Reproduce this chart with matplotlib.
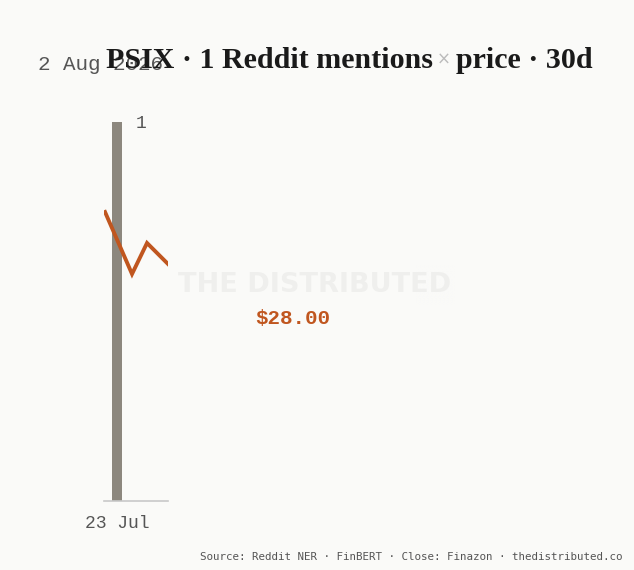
import numpy as np
import matplotlib.pyplot as plt

# data
mention_days = [0]
mention_counts = [1]
price_days = [-0.8, 1.0, 2.0, 3.4]
price_close = [28.52, 27.90, 28.21, 28.00]
tick_days = [0]
tick_labels = ['23 Jul']

bg = '#fafaf8'
bar_col = '#8c877e'
line_col = '#c0561f'

fig = plt.figure(figsize=(6.34, 5.70), dpi=100, facecolor=bg)
ax = fig.add_axes([0.164, 0.121, 0.101, 0.665])
ax.set_facecolor('none')

ax.bar(mention_days, mention_counts, width=0.65, color=bar_col, zorder=2)
ax.set_xlim(-0.87, 3.4)
ax.set_ylim(0, 1)
for s in ['top', 'right', 'left']:
    ax.spines[s].set_visible(False)
ax.spines['bottom'].set_color('#c8c8c8')
ax.spines['bottom'].set_linewidth(1.2)
ax.set_yticks([])
ax.set_xticks(tick_days)
ax.set_xticklabels(tick_labels, family='Liberation Mono', fontsize=13, color='#555555')
ax.tick_params(axis='x', length=0, pad=10)

ax2 = ax.twinx()
ax2.plot(price_days, price_close, color=line_col, lw=2.8, solid_joinstyle='miter', zorder=3)
ax2.set_ylim(25.63, 29.42)
ax2.axis('off')

# labels
fig.text(136 / 634, 1 - 123 / 570, '1', family='Liberation Mono', fontsize=13,
         color='#555555', va='center', ha='left')
fig.text(255 / 634, 1 - 318 / 570, '$28.00', family='Liberation Mono', fontsize=15,
         fontweight='bold', color=line_col, va='center', ha='left')
fig.text(178 / 634, 1 - 285 / 570, 'THE DISTRIBUTED', family='DejaVu Sans', fontsize=19.5,
         fontweight='bold', color='#efefed', va='center', ha='left', zorder=0)
# fade the right end of the watermark
fade = fig.add_axes([415 / 634, 1 - 305 / 570, 40 / 634, 40 / 570])
grad = np.zeros((1, 50, 4))
grad[..., :3] = np.array([250, 250, 248]) / 255
grad[..., 3] = np.linspace(0, 1, 50)
fade.imshow(grad, aspect='auto', extent=[0, 1, 0, 1])
fade.axis('off')

fig.text(38 / 634, 1 - 64 / 570, '2 Aug 2026', family='Liberation Mono', fontsize=15,
         color='#555555', va='center', ha='left')
fig.text(106 / 634, 1 - 60 / 570, 'PSIX · 1 Reddit mentions', family='Liberation Serif',
         fontsize=21.6, fontweight='bold', color='#1a1a1a', va='center', ha='left')
fig.text(444 / 634, 1 - 60 / 570, '×', family='DejaVu Sans', fontsize=12,
         color='#bbbbbb', va='center', ha='center')
fig.text(456 / 634, 1 - 60 / 570, 'price · 30d', family='Liberation Serif',
         fontsize=21.6, fontweight='bold', color='#1a1a1a', va='center', ha='left')

fig.text(623 / 634, 1 - 557 / 570, 'Source: Reddit NER · FinBERT · Close: Finazon · thedistributed.co',
         family='DejaVu Sans Mono', fontsize=7.8, color='#555555', va='center', ha='right')

fig.savefig('out.png', dpi=100, facecolor=bg)
